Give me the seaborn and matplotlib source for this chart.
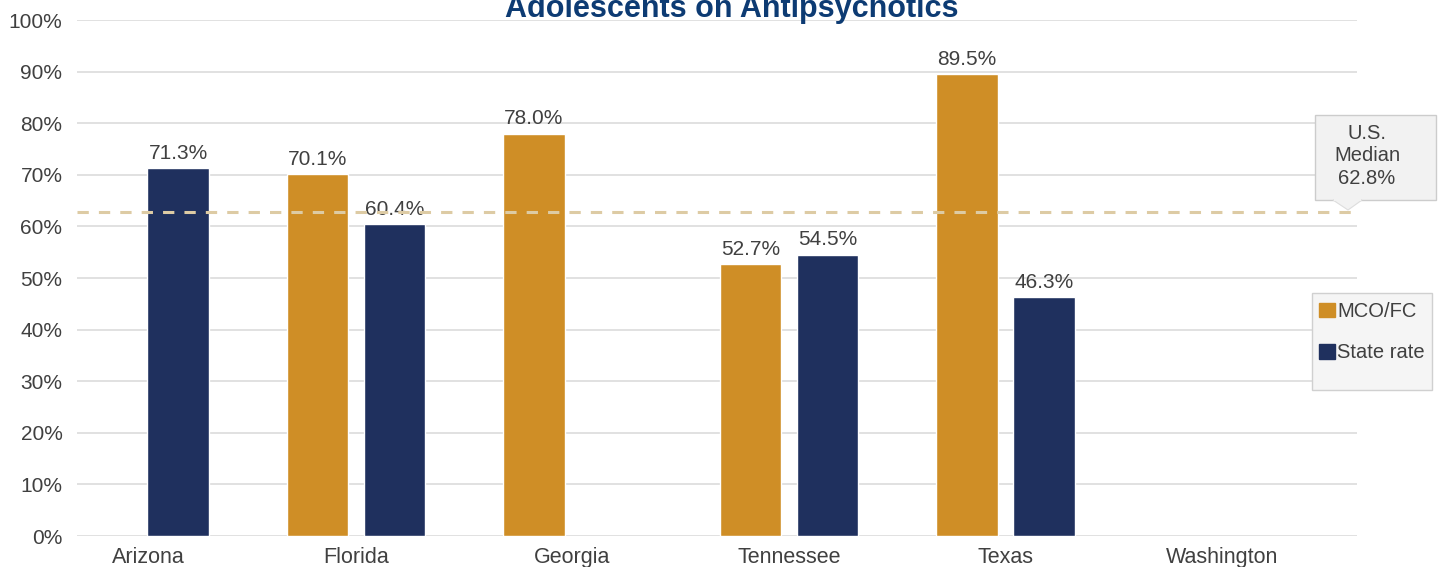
import numpy as np
import pandas as pd
import matplotlib.pyplot as plt
import matplotlib.transforms as mtransforms
import seaborn as sns
from matplotlib.patches import Rectangle, Polygon

states = ["Arizona", "Florida", "Georgia", "Tennessee", "Texas", "Washington"]
mco_fc = [np.nan, 70.1, 78.0, 52.7, 89.5, np.nan]
state_rate = [71.3, 60.4, np.nan, 54.5, 46.3, np.nan]
series = ["MCO/FC", "State rate"]
us_median = 62.8
yticks = list(range(0, 101, 10))

df = pd.DataFrame({
    "state": states * 2,
    "series": [series[0]] * len(states) + [series[1]] * len(states),
    "value": mco_fc + state_rate,
})

sns.set_style("white")
plt.rcParams["font.family"] = ["Liberation Sans", "DejaVu Sans"]

fig = plt.figure(figsize=(14.4, 5.67), dpi=100)
ax = fig.add_axes([77 / 1440, 1 - 536 / 567, 1280 / 1440, 516 / 567])

colors = {"MCO/FC": "#CF8E26", "State rate": "#1F305E"}
sns.barplot(data=df, x="state", y="value", hue="series", order=states,
            hue_order=series, palette=colors, width=0.711, gap=0.2,
            saturation=1, ax=ax, legend=False)

text_col = "#404040"
for cont in ax.containers:
    for bar in cont:
        h = bar.get_height()
        if np.isnan(h) or h == 0:
            continue
        ax.text(bar.get_x() + bar.get_width() / 2, h + 1.8, f"{h:.1f}%",
                ha="center", va="baseline", fontsize=15, color=text_col)

ax.set_xlim(-0.289, 5.624)
ax.set_ylim(0, 100)
ax.set_yticks(yticks)
ax.set_yticklabels([f"{t}%" for t in yticks])
ax.yaxis.grid(True, color="#DCDCDC", linewidth=1.2)
ax.set_axisbelow(True)
for s in ax.spines.values():
    s.set_visible(False)
ax.tick_params(axis="both", length=0, labelcolor=text_col)
ax.tick_params(axis="y", pad=10.5, labelsize=15)
ax.tick_params(axis="x", pad=8, labelsize=15.5)
ax.set_xlabel("")
ax.set_ylabel("")

# first category label sits a little right of its group in the original
first = ax.get_xticklabels()[0]
first.set_transform(first.get_transform() +
                    mtransforms.ScaledTranslation(9 / 100, 0, fig.dpi_scale_trans))

# U.S. median line, drawn over the bars
ax.axhline(us_median, color="#DDCBA4", linestyle=(0, (3.7, 3.3)), linewidth=2.2, zorder=5)

# callout box for the median
bx0, bx1 = 1315 / 1440, 1436 / 1440
by0, by1 = 1 - 200 / 567, 1 - 115 / 567
fig.patches.append(Rectangle((bx0, by0), bx1 - bx0, by1 - by0, transform=fig.transFigure,
                             facecolor="#F2F2F2", edgecolor="#CCCCCC", linewidth=1))
fig.patches.append(Polygon([(1333 / 1440, by0), (1362 / 1440, by0), (1348 / 1440, 1 - 210 / 567)],
                           closed=True, transform=fig.transFigure, facecolor="#F2F2F2",
                           edgecolor="#DDDDDD", linewidth=0.8))
fig.patches.append(Rectangle((1334 / 1440, by0 - 0.001), 27 / 1440, 0.004,
                             transform=fig.transFigure, facecolor="#F2F2F2", edgecolor="none"))
fig.text(1367 / 1440, (by0 + by1) / 2 + 0.003, "U.S.\nMedian\n62.8%", ha="center",
         va="center", fontsize=14.5, color=text_col, linespacing=1.25)

# legend box and entries
fig.patches.append(Rectangle((1312 / 1440, 1 - 390 / 567), 120 / 1440, 97 / 567,
                             transform=fig.transFigure, facecolor="#F5F5F5",
                             edgecolor="#D0D0D0", linewidth=1))
handles = [plt.Rectangle((0, 0), 1, 1, color=colors[s]) for s in series]
leg = fig.legend(handles, series, loc="upper left",
                 bbox_to_anchor=(1319 / 1440, 1 - 302 / 567), frameon=False,
                 fontsize=14.5, handlelength=0.8, handleheight=0.75,
                 handletextpad=0.1, labelspacing=1.1, borderpad=0,
                 borderaxespad=0)
for t in leg.get_texts():
    t.set_color(text_col)

fig.text(0.508, 1 - 17 / 567, "Adolescents on Antipsychotics", ha="center",
         va="baseline", fontsize=22, fontweight="bold", color="#0D3B73")

fig.savefig("out.png", dpi=100)
